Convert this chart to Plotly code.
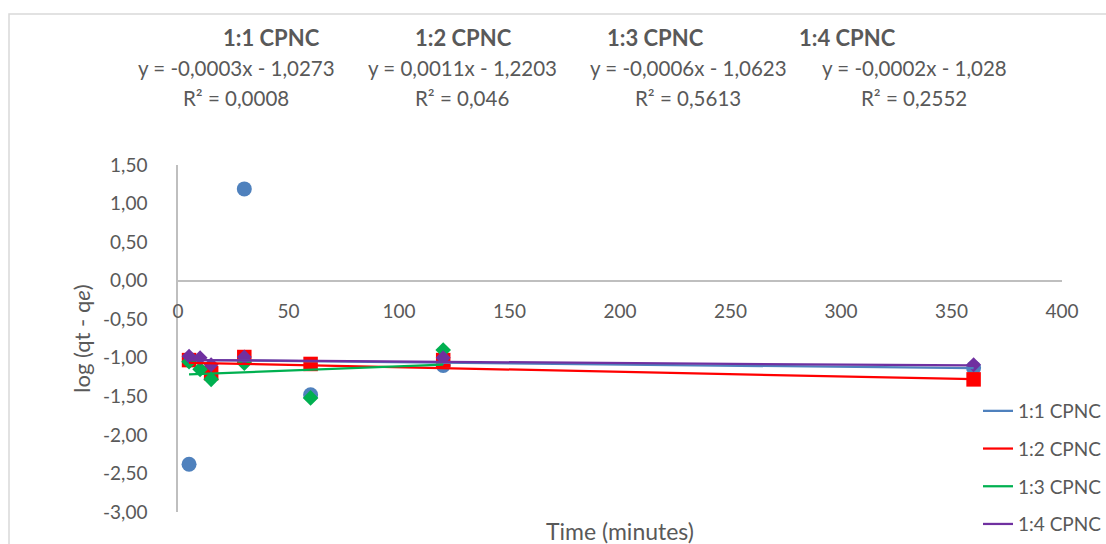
import plotly.graph_objects as go

# Contact time (minutes) for each sample series
time_11 = [5, 30, 60, 120, 360]
time_12 = [5, 15, 30, 60, 120, 360]
time_13 = [5, 10, 15, 30, 60, 120]
time_14 = [5, 10, 15, 30, 120, 360]

# log (qt - qe) values
log_11 = [-2.38, 1.19, -1.48, -1.10, -1.13]
log_12 = [-1.03, -1.20, -0.99, -1.08, -1.03, -1.28]
log_13 = [-1.05, -1.15, -1.28, -1.07, -1.52, -0.90]
log_14 = [-0.98, -1.00, -1.09, -0.99, -1.00, -1.09]

series_names = ["1:1 CPNC", "1:2 CPNC", "1:3 CPNC", "1:4 CPNC"]

# Linear trendline coefficients (slope, intercept) per series
trend_slope = [-0.0003, -0.0006, 0.0011, -0.0002]
trend_intercept = [-1.0273, -1.0623, -1.2203, -1.028]

# Header text blocks above the plot
header_titles = ["1:1 CPNC", "1:2 CPNC", "1:3 CPNC", "1:4 CPNC"]
header_equations = ["y = -0,0003x - 1,0273", "y = 0,0011x - 1,2203",
                    "y = -0,0006x - 1,0623", "y = -0,0002x - 1,028"]
header_r2 = ["R² = 0,0008", "R² = 0,046", "R² = 0,5613", "R² = 0,2552"]

x_ticks = [0, 50, 100, 150, 200, 250, 300, 350, 400]
y_ticks = [1.5, 1.0, 0.5, 0.0, -0.5, -1.0, -1.5, -2.0, -2.5, -3.0]

colors = ["#4F81BD", "#FF0000", "#00B050", "#7030A0"]
symbols = ["circle", "square", "diamond", "diamond"]
msizes = [15, 14.5, 12, 11.5]
TEXT = "#595959"
FONT = "Lato"

W, H = 1106, 544
ML, MR, MT, MB = 178, 44, 165, 32
PW, PH = W - ML - MR, H - MT - MB


def px_x(p):
    return (p - ML) / PW


def px_y(p):
    return (H - MB - p) / PH


def comma_label(v):
    # comma decimal separator with an ASCII hyphen for negatives
    return f"{v:.2f}".replace(".", ",")


times = [time_11, time_12, time_13, time_14]
logs = [log_11, log_12, log_13, log_14]

fig = go.Figure()

# Data markers
for i in range(4):
    fig.add_trace(go.Scatter(
        x=times[i], y=logs[i], mode="markers", name=series_names[i],
        marker=dict(color=colors[i], symbol=symbols[i], size=msizes[i], line=dict(width=0)),
        showlegend=False, hoverinfo="x+y"))

# Linear trendlines spanning each series' time range
for i in range(4):
    xs = [min(times[i]), max(times[i])]
    ys = [trend_slope[i] * v + trend_intercept[i] for v in xs]
    fig.add_trace(go.Scatter(
        x=xs, y=ys, mode="lines", name=series_names[i],
        line=dict(color=colors[i], width=2.25),
        legendgroup=f"g{i}", showlegend=True))

annotations = []
title_x = [271, 463, 655, 847]
eq_x = [236, 462, 688, 914]
for i in range(4):
    annotations.append(dict(text=f"<b>{header_titles[i]}</b>", x=px_x(title_x[i]), y=px_y(37),
                            xref="paper", yref="paper", showarrow=False,
                            xanchor="center", yanchor="middle",
                            font=dict(family=FONT, size=22, color=TEXT)))
    annotations.append(dict(text=header_equations[i], x=px_x(eq_x[i]), y=px_y(68),
                            xref="paper", yref="paper", showarrow=False,
                            xanchor="center", yanchor="middle",
                            font=dict(family=FONT, size=20.5, color=TEXT)))
    annotations.append(dict(text=header_r2[i], x=px_x(eq_x[i]), y=px_y(98),
                            xref="paper", yref="paper", showarrow=False,
                            xanchor="center", yanchor="middle",
                            font=dict(family=FONT, size=20.5, color=TEXT)))

annotations.append(dict(text="Time (minutes)", x=0.5, y=px_y(531), xref="paper", yref="paper",
                        showarrow=False, xanchor="center", yanchor="middle",
                        font=dict(family=FONT, size=23, color=TEXT)))

fig.update_layout(
    width=W, height=H,
    margin=dict(l=ML, r=MR, t=MT, b=MB, autoexpand=False),
    paper_bgcolor="white", plot_bgcolor="white",
    font=dict(family=FONT, size=18, color=TEXT),
    annotations=annotations,
    shapes=[dict(type="rect", xref="paper", yref="paper",
                 x0=px_x(9), x1=px_x(1120), y0=px_y(560), y1=px_y(14),
                 line=dict(color="#D9D9D9", width=1.5), fillcolor="rgba(0,0,0,0)", layer="below")],
    legend=dict(x=px_x(978), y=px_y(392), xanchor="left", yanchor="top",
                font=dict(family=FONT, size=19, color=TEXT),
                tracegroupgap=10, bgcolor="rgba(0,0,0,0)"),
    showlegend=True,
)

fig.update_xaxes(
    range=[0, 400], tickvals=x_ticks, ticktext=[str(v) for v in x_ticks],
    showgrid=False, zeroline=False,
    showline=True, linecolor="#BFBFBF", linewidth=1.5,
    anchor="free", position=3 / 4.5,
    ticks="", ticklabelstandoff=14,
    tickfont=dict(family=FONT, size=19, color=TEXT),
)
fig.update_yaxes(
    range=[-3, 1.5], tickvals=y_ticks, ticktext=[comma_label(v) for v in y_ticks],
    showgrid=False, zeroline=False,
    showline=True, linecolor="#BFBFBF", linewidth=1.5,
    ticks="", ticklabelstandoff=25,
    tickfont=dict(family=FONT, size=19, color=TEXT),
    title=dict(text="log (qt - q<i>e</i>)", standoff=6,
               font=dict(family=FONT, size=22, color=TEXT)),
)

fig.write_html("out.html")
